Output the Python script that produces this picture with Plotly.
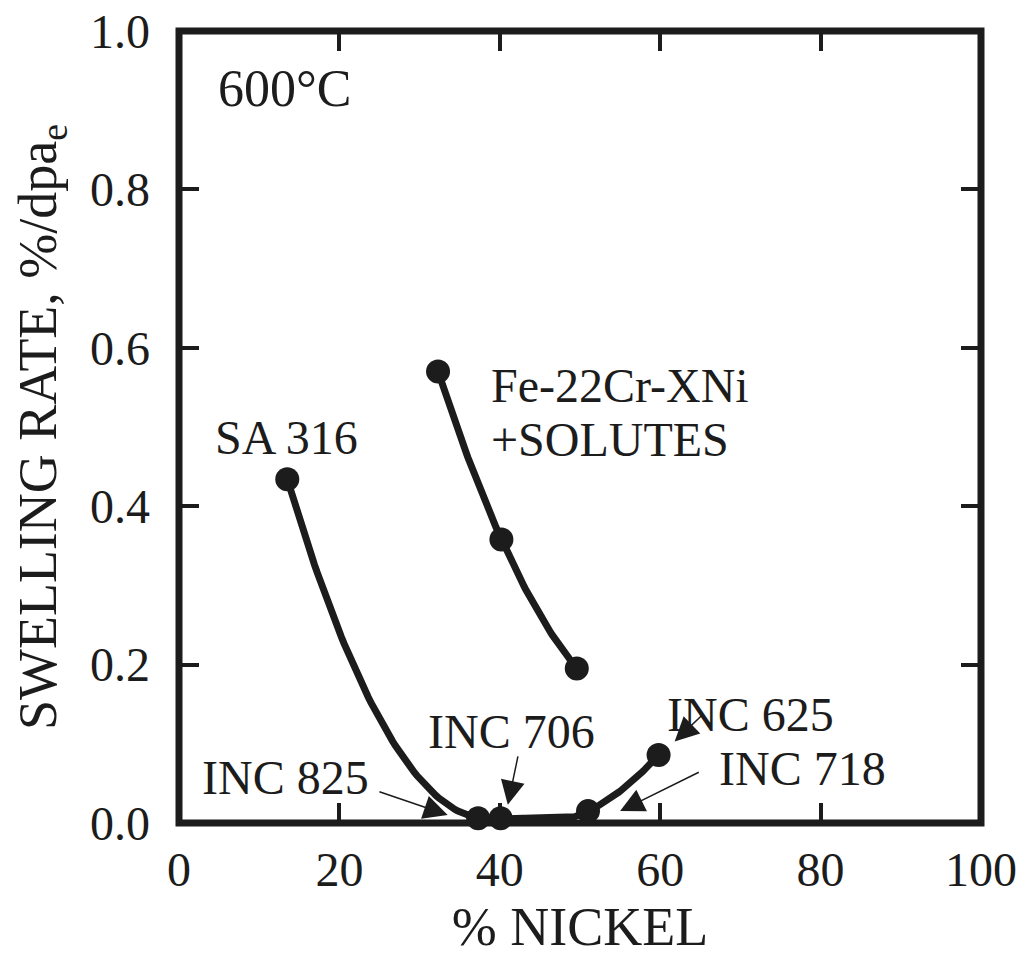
import numpy as np
import plotly.graph_objects as go

# Swelling rate at 600°C versus nickel content
alloy_names = ["SA 316", "INC 825", "INC 706", "INC 718", "INC 625"]
alloy_ni = [13.5, 37.3, 40.1, 51.0, 59.8]
alloy_rate = [0.434, 0.006, 0.006, 0.015, 0.086]

fecr_ni = [32.3, 40.2, 49.6]
fecr_rate = [0.570, 0.358, 0.195]

x_ticks = [0, 20, 40, 60, 80, 100]
y_ticks = [0.0, 0.2, 0.4, 0.6, 0.8, 1.0]

INK = "#1c1c1c"
FONT = "Liberation Serif, Times New Roman, serif"


def quad_through(xs, ys, n=80):
    """Smooth quadratic trend through three measured points."""
    c = np.polyfit(xs, ys, 2)
    xx = np.linspace(xs[0], xs[-1], n)
    return xx, np.polyval(c, xx)


fig = go.Figure()

# trend curve for the commercial alloys: falling branch then rising branch
lx, ly = quad_through(alloy_ni[0:3], alloy_rate[0:3])
rx, ry = quad_through(alloy_ni[2:5], alloy_rate[2:5])
ry = np.maximum(ry, min(alloy_rate))
fig.add_trace(go.Scatter(x=np.concatenate([lx, rx]), y=np.concatenate([ly, ry]),
                         mode="lines", line=dict(color=INK, width=7),
                         hoverinfo="skip", showlegend=False))
fx, fy = quad_through(fecr_ni, fecr_rate)
fig.add_trace(go.Scatter(x=fx, y=fy, mode="lines", line=dict(color=INK, width=7),
                         hoverinfo="skip", showlegend=False))

fig.add_trace(go.Scatter(x=alloy_ni, y=alloy_rate, mode="markers", text=alloy_names,
                         marker=dict(color=INK, size=24), cliponaxis=False,
                         showlegend=False))
fig.add_trace(go.Scatter(x=fecr_ni, y=fecr_rate, mode="markers",
                         marker=dict(color=INK, size=24), cliponaxis=False,
                         showlegend=False))

txt = dict(family=FONT, size=48, color=INK)
ann = [
    dict(x=4.6, y=0.927, text="600°C", xanchor="left", font=dict(family=FONT, size=52, color=INK)),
    dict(x=4.2, y=0.487, text="SA 316", xanchor="left", font=txt),
    dict(x=38.7, y=0.553, text="Fe-22Cr-XNi", xanchor="left", font=txt),
    dict(x=38.7, y=0.484, text="+SOLUTES", xanchor="left", font=txt),
    dict(x=13.3, y=0.057, text="INC 825", font=txt),
    dict(x=41.5, y=0.115, text="INC 706", font=txt),
    dict(x=71.3, y=0.137, text="INC 625", font=txt),
    dict(x=77.7, y=0.069, text="INC 718", font=txt),
]
for a in ann:
    fig.add_annotation(showarrow=False, xref="x", yref="y", **a)

# pointer arrows: (tip, tail) in data units
arrows = [
    ((33.5, 0.010), (24.8, 0.040)),
    ((41.0, 0.023), (42.3, 0.086)),
    ((61.8, 0.103), (65.3, 0.137)),
    ((55.0, 0.015), (65.0, 0.065)),
]
for (tx, ty), (sx, sy) in arrows:
    fig.add_annotation(x=tx, y=ty, ax=sx, ay=sy, xref="x", yref="y",
                       axref="x", ayref="y", text="", showarrow=True,
                       arrowhead=2, arrowsize=3.2, arrowwidth=1.5,
                       arrowcolor=INK, standoff=0, startstandoff=0)

# heavy frame round the plotting area
fig.add_shape(type="rect", xref="paper", yref="paper", x0=0, y0=0, x1=1, y1=1,
              line=dict(color=INK, width=7), layer="below")

axis_common = dict(showgrid=False, zeroline=False, showline=False,
                   ticks="inside", ticklen=20, tickwidth=4, tickcolor=INK,
                   mirror="ticks", tickfont=dict(family=FONT, size=48, color=INK))
fig.update_xaxes(range=[0, 100], tickvals=x_ticks, ticktext=[str(v) for v in x_ticks],
                 ticklabelstandoff=14,
                 title=dict(text="% NICKEL", font=dict(family=FONT, size=54, color=INK),
                            standoff=12),
                 **axis_common)
fig.update_yaxes(range=[0, 1], tickvals=y_ticks, ticktext=[f"{v:.1f}" for v in y_ticks],
                 ticklabelstandoff=28,
                 title=dict(text="SWELLING RATE, %/dpa<sub>e</sub>",
                            font=dict(family=FONT, size=54, color=INK), standoff=16),
                 **axis_common)

fig.update_layout(width=1032, height=963, autosize=False,
                  margin=dict(l=179, r=51, t=31, b=140, autoexpand=False),
                  paper_bgcolor="white", plot_bgcolor="white", showlegend=False)

fig.write_html("out.html")
